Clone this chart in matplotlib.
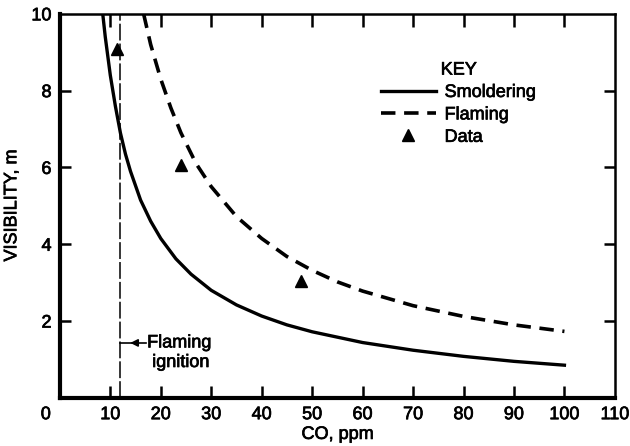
import numpy as np
import matplotlib.pyplot as plt
import matplotlib.patheffects as pe
import matplotlib.transforms as mtransforms

plt.rcParams['font.family'] = ['Liberation Sans', 'DejaVu Sans']

# curves
smold_x = [8.5, 9, 10, 11, 12, 13, 14, 16, 18, 20, 23, 26, 30, 35, 40, 45, 50, 60, 70, 80, 90, 100]
smold_y = [10, 9.4, 8.4, 7.6, 6.9, 6.35, 5.9, 5.15, 4.6, 4.15, 3.62, 3.22, 2.8, 2.42, 2.13, 1.9, 1.72, 1.44, 1.24, 1.08, 0.95, 0.85]

flam_x = [16.6, 18, 20, 22, 24, 27, 30, 35, 40, 45, 50, 55, 60, 70, 80, 90, 100]
flam_y = [10, 9.2, 8.3, 7.55, 6.9, 6.1, 5.5, 4.72, 4.15, 3.68, 3.32, 3.02, 2.78, 2.4, 2.12, 1.9, 1.73]

data_x = [11.3, 24.1, 47.8]
data_y = [9.08, 6.07, 3.05]

ignition_x = 12
xticks = [0, 10, 20, 30, 40, 50, 60, 70, 80, 90, 100, 110]
yticks = [2, 4, 6, 8, 10]

# thicken text a little, like the scanned original
bold = [pe.withStroke(linewidth=0.5, foreground='black')]

fig = plt.figure(figsize=(6.3, 4.46), dpi=100)
ax = fig.add_axes([0.095, 0.108, 0.881, 0.861])

ax.plot(smold_x, smold_y, color='black', lw=2.4, label='Smoldering')
ax.plot(flam_x, flam_y, color='black', lw=2.6, dashes=(4, 2.4), label='Flaming')
ax.plot(data_x, data_y, linestyle='none', marker='^', color='black', markersize=8, label='Data')
ax.axvline(ignition_x, color='black', lw=1.1, dashes=(11, 2))

# pointer from label to the ignition line
ax.plot([ignition_x, 17], [1.43, 1.43], color='black', lw=1.2)
ax.annotate('', xy=(13.4, 1.43), xytext=(15.5, 1.43),
            arrowprops=dict(arrowstyle='-|>', color='black', lw=1.2, mutation_scale=11))
ax.text(17.3, 1.43, 'Flaming', fontsize=13, va='center', ha='left', path_effects=bold)
ax.text(24.0, 0.92, 'ignition', fontsize=13, va='center', ha='center', path_effects=bold)

ax.set_xlim(0, 110)
ax.set_ylim(0, 10)
ax.set_xticks(xticks)
ax.set_yticks(yticks)
ax.tick_params(direction='in', top=True, right=True, length=9, width=1.8,
               labelsize=13, pad=6)
ax.tick_params(axis='y', length=8)
for t in [ax.xaxis.get_major_ticks()[0], ax.xaxis.get_major_ticks()[-1],
          ax.yaxis.get_major_ticks()[-1]]:
    t.tick1line.set_visible(False)
    t.tick2line.set_visible(False)
for lab in ax.get_xticklabels() + ax.get_yticklabels():
    lab.set_path_effects(bold)

# the "0" sits left of the corner in the original
zero = ax.get_xticklabels()[0]
zero.set_transform(zero.get_transform() +
                   mtransforms.ScaledTranslation(-0.14, 0, fig.dpi_scale_trans))

for side in ['left', 'bottom']:
    ax.spines[side].set_linewidth(3)
for side in ['top', 'right']:
    ax.spines[side].set_linewidth(1.8)

ax.set_xlabel('CO, ppm', fontsize=13, labelpad=2, path_effects=bold)
ax.set_ylabel('VISIBILITY, m', fontsize=13, labelpad=8, path_effects=bold)

leg = ax.legend(title='KEY', frameon=False, fontsize=13, title_fontsize=13,
                loc='upper left', bbox_to_anchor=(0.55, 0.918),
                handlelength=3.0, handletextpad=0.5, labelspacing=0.3)
for txt in leg.get_texts() + [leg.get_title()]:
    txt.set_path_effects(bold)

fig.savefig('out.png', dpi=100)
